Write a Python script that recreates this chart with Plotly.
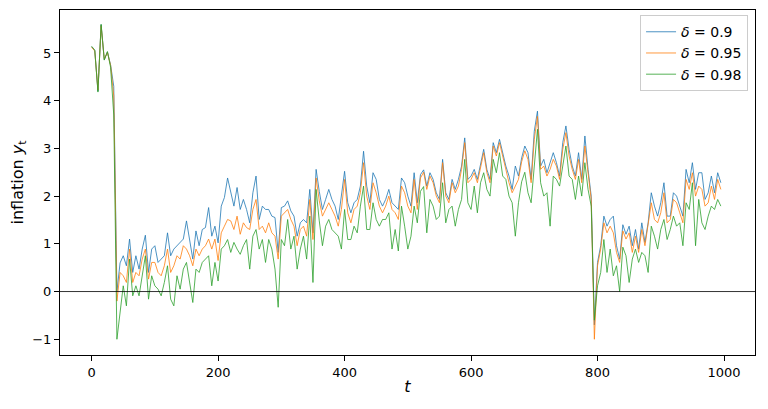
import plotly.graph_objects as go

# time index, every 5th period
t = list(range(0, 1000, 5))

# inflation paths, one list per delta
infl_090 = [
    5.13, 5.05, 4.2, 5.59, 4.86, 5.02, 4.75, 4.3, 0.0, 0.6,
    0.75, 0.54, 1.1, 0.4, 0.75, 0.47, 0.89, 1.18, 0.4, 0.89,
    0.96, 0.61, 0.68, 0.75, 1.23, 0.75, 0.89, 0.96, 1.03, 1.1,
    1.48, 1.03, 0.68, 1.27, 0.96, 1.3, 1.34, 1.76, 1.16, 1.37,
    1.02, 1.79, 1.97, 2.38, 2.1, 1.79, 2.18, 1.72, 1.93, 1.72,
    1.44, 2.07, 2.42, 1.51, 1.79, 1.72, 1.72, 1.58, 1.55, 0.82,
    1.76, 1.79, 1.9, 1.69, 1.58, 1.16, 1.44, 1.51, 1.44, 2.14,
    1.23, 2.56, 2.1, 1.72, 1.93, 2.14, 1.93, 1.79, 1.51, 2.0,
    2.52, 1.86, 1.65, 1.86, 1.93, 2.21, 2.94, 2.21, 1.86, 2.49,
    2.35, 1.93, 1.79, 1.93, 2.14, 1.86, 1.79, 1.72, 2.38, 2.28,
    2.0, 1.79, 2.49, 1.86, 2.45, 2.55, 2.21, 2.49, 2.35, 2.07,
    1.93, 2.77, 2.07, 1.93, 2.35, 2.14, 2.35, 2.63, 3.22, 2.35,
    2.42, 2.56, 2.35, 2.7, 2.98, 2.56, 2.35, 3.12, 2.91, 3.19,
    2.91, 2.63, 2.42, 2.14, 2.63, 2.42, 2.8, 3.05, 2.91, 2.35,
    3.36, 3.78, 2.63, 2.77, 2.49, 2.7, 2.91, 2.7, 2.42, 3.12,
    3.47, 2.98, 2.63, 2.42, 2.91, 2.35, 3.26, 2.56, 2.0, -0.7,
    0.61, 0.96, 1.58, 1.37, 1.51, 1.58, 0.96, 0.68, 1.4, 1.2,
    1.37, 0.96, 1.3, 0.89, 1.44, 1.03, 1.44, 2.07, 1.79, 1.58,
    1.86, 2.28, 1.58, 1.58, 2.07, 2.0, 1.79, 1.58, 2.56, 2.28,
    2.7, 2.14, 2.49, 2.49, 1.93, 2.07, 2.42, 2.07, 2.49, 2.28,
]

infl_095 = [
    5.12, 5.04, 4.22, 5.57, 4.87, 5.01, 4.74, 4.1, -0.2, 0.4,
    0.33, 0.19, 0.89, 0.19, 0.4, 0.33, 0.68, 0.89, 0.26, 0.61,
    0.61, 0.4, 0.33, 0.54, 0.89, 0.4, 0.54, 0.75, 0.68, 0.96,
    0.89, 0.75, 0.54, 0.89, 0.75, 0.89, 0.96, 1.1, 0.89, 1.1,
    0.65, 1.23, 1.37, 1.51, 1.48, 1.3, 1.58, 1.2, 1.44, 1.34,
    1.3, 1.72, 1.93, 1.3, 1.37, 1.23, 1.44, 1.23, 1.16, 0.68,
    1.58, 1.65, 1.72, 1.51, 1.37, 0.96, 1.3, 1.37, 1.16, 1.93,
    1.09, 2.38, 1.9, 1.58, 1.72, 1.86, 1.72, 1.58, 1.37, 1.72,
    2.35, 1.65, 1.44, 1.72, 1.79, 2.07, 2.7, 2.0, 1.72, 2.28,
    2.07, 1.79, 1.65, 1.79, 2.0, 1.72, 1.65, 1.51, 2.21, 2.07,
    1.79, 1.65, 2.35, 1.72, 2.38, 2.5, 2.14, 2.42, 2.28, 2.0,
    1.86, 2.7, 2.0, 1.86, 2.28, 2.07, 2.21, 2.56, 3.12, 2.28,
    2.35, 2.49, 2.28, 2.63, 2.91, 2.49, 2.28, 3.05, 2.84, 3.12,
    2.84, 2.56, 2.28, 2.07, 2.21, 2.35, 2.72, 2.95, 2.77, 2.28,
    3.19, 3.67, 2.56, 2.63, 2.42, 2.56, 2.77, 2.63, 2.35, 2.98,
    3.33, 2.84, 2.56, 2.35, 2.77, 2.28, 3.05, 2.42, 1.93, -1.0,
    0.54, 0.89, 1.44, 1.23, 1.37, 1.23, 0.82, 0.61, 1.27, 1.1,
    1.23, 0.82, 1.16, 0.82, 1.3, 0.96, 1.37, 1.86, 1.51, 1.44,
    1.65, 2.07, 1.44, 1.51, 1.93, 1.86, 1.65, 1.44, 2.35, 2.14,
    2.49, 2.0, 2.21, 2.14, 1.79, 1.86, 2.21, 1.93, 2.35, 2.14,
]

infl_098 = [
    5.14, 5.06, 4.18, 5.6, 4.85, 5.03, 4.7, 3.7, -1.0, -0.45,
    0.12, -0.3, 0.68, -0.09, 0.12, -0.09, 0.33, 0.75, -0.16, 0.33,
    0.12, 0.05, -0.09, 0.19, 0.54, -0.16, -0.3, 0.33, 0.05, 0.47,
    0.61, 0.19, -0.23, 0.47, 0.4, 0.61, 0.68, 0.75, 0.12, 0.61,
    0.22, 0.89, 0.96, 1.09, 0.82, 1.03, 0.89, 0.78, 0.96, 1.09,
    0.47, 1.16, 1.3, 0.89, 1.09, 0.61, 1.09, 0.89, 0.47, -0.33,
    1.09, 0.96, 1.51, 0.89, 1.16, 0.47, 0.89, 1.16, 0.68, 1.58,
    0.19, 2.14, 1.48, 0.96, 1.37, 1.51, 1.3, 1.23, 1.16, 0.89,
    1.72, 1.09, 1.09, 1.37, 1.23, 1.79, 2.21, 1.3, 1.3, 1.86,
    1.51, 1.37, 1.51, 1.51, 1.65, 0.89, 1.3, 0.85, 1.79, 1.37,
    0.89, 1.16, 1.79, 1.44, 2.1, 2.2, 1.23, 1.93, 1.79, 1.51,
    1.58, 2.28, 1.44, 1.72, 1.79, 1.37, 1.72, 1.93, 2.77, 1.86,
    1.72, 2.21, 1.65, 2.28, 2.49, 2.14, 2.0, 2.77, 2.49, 2.91,
    2.42, 2.35, 2.0, 1.86, 1.16, 1.86, 2.3, 2.5, 2.07, 1.86,
    2.63, 3.4, 2.28, 2.0, 2.07, 1.37, 2.42, 2.35, 2.21, 2.63,
    3.05, 2.42, 2.35, 1.93, 2.42, 2.0, 2.7, 2.14, 1.79, -0.6,
    0.12, 0.4, 1.09, 0.4, 0.89, 0.33, 0.54, 0.0, 0.93, 0.75,
    0.19, 0.68, 0.89, 0.61, 0.82, 0.75, 0.4, 1.37, 1.16, 0.89,
    1.3, 1.51, 1.09, 1.3, 1.58, 1.37, 1.44, 0.96, 1.86, 1.72,
    2.28, 0.96, 1.93, 1.44, 1.3, 1.58, 1.79, 1.72, 1.93, 1.79,
]

series = [
    ('<i>δ</i> = 0.9', infl_090, '#1f77b4'),
    ('<i>δ</i> = 0.95', infl_095, '#ff7f0e'),
    ('<i>δ</i> = 0.98', infl_098, '#2ca02c'),
]

fig = go.Figure()
for name, vals, col in series:
    fig.add_trace(go.Scatter(
        x=t, y=vals, mode='lines', name=name,
        line=dict(color=col, width=0.8)
    ))

fig.add_hline(y=0, line_color='black', line_width=0.8, layer='above')

axis_style = dict(
    showline=True, mirror=True, linecolor='black', linewidth=1,
    ticks='outside', ticklen=5, tickcolor='black',
    showgrid=False, zeroline=False
)

# page has an 8px body margin, so margins are trimmed to line the axes up
fig.update_layout(
    width=768, height=409,
    margin=dict(l=52, r=21, t=2, b=62),
    plot_bgcolor='#FFFFFF',
    paper_bgcolor='#FFFFFF',
    font=dict(family='DejaVu Sans', size=13, color='black'),
    xaxis=dict(range=[-50, 1049], tickvals=[0, 200, 400, 600, 800, 1000],
               title=dict(text='<i>t</i>', standoff=2), **axis_style),
    yaxis=dict(range=[-1.33, 5.9], tickvals=[-1, 0, 1, 2, 3, 4, 5],
               title=dict(text='inflation <i>y</i><sub>t</sub>', standoff=6), **axis_style),
    legend=dict(x=0.99, y=0.985, xanchor='right', yanchor='top',
                bgcolor='rgba(255,255,255,0.8)', bordercolor='#cccccc', borderwidth=1,
                font=dict(size=14), tracegroupgap=0),
    showlegend=True
)

fig.write_html("out.html")
